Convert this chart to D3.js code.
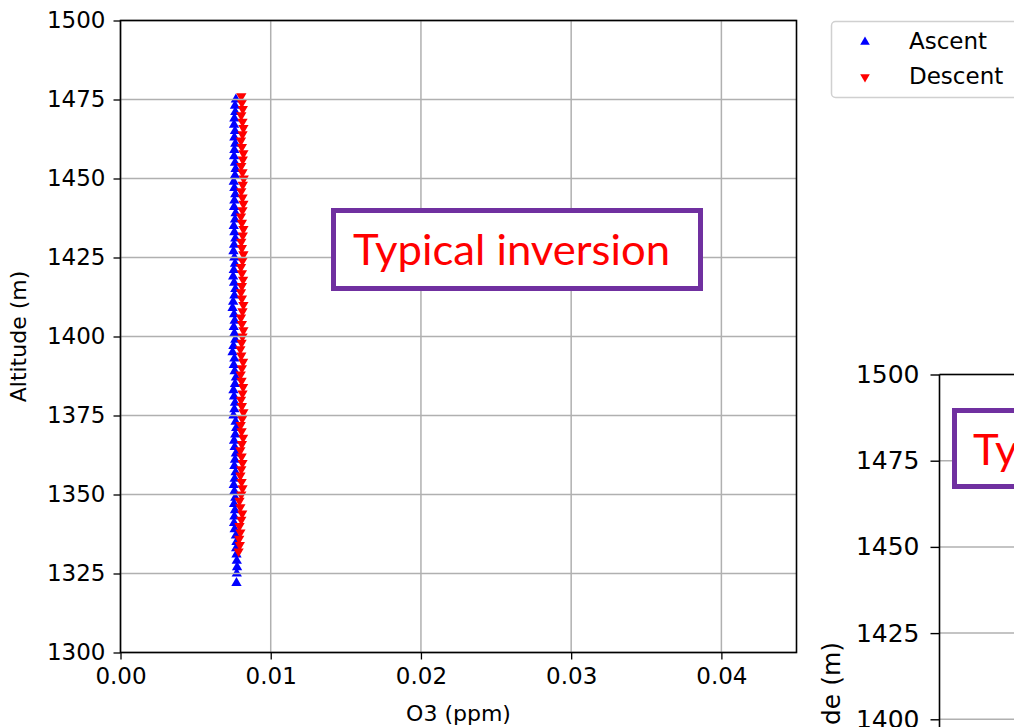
<!DOCTYPE html>
<html>
<head>
<meta charset="utf-8">
<script src="https://cdn.jsdelivr.net/npm/d3@7"></script>
<style>
  body { margin: 0; background: #fff; }
  svg { display: block; }
</style>
</head>
<body>
<svg id="chart" width="1014" height="727"></svg>
<script>
// ---------- data ----------
const ascentAlt = [1322,1325,1327,1329,1331,1333,1335,1337,1339,1341,1343,1345,1347,1349,1351,1353,1355,1357,1359,1361,1363,1365,1367,1369,1371,1373,1375,1377,1379,1381,1383,1385,1387,1389,1391,1393,1395,1397,1399,1401,1403,1405,1407,1409,1411,1413,1415,1417,1419,1421,1423,1425,1427,1429,1431,1433,1435,1437,1439,1441,1443,1445,1447,1449,1451,1453,1455,1457,1459,1461,1463,1465,1467,1469,1471,1473,1475];
const ascentO3  = [0.00772,0.00774,0.00776,0.00774,0.00772,0.00770,0.00772,0.00768,0.00760,0.00756,0.00758,0.00762,0.00756,0.00764,0.00758,0.00754,0.00760,0.00766,0.00758,0.00762,0.00768,0.00760,0.00756,0.00764,0.00770,0.00766,0.00752,0.00758,0.00762,0.00756,0.00752,0.00762,0.00768,0.00760,0.00754,0.00758,0.00746,0.00752,0.00764,0.00758,0.00754,0.00760,0.00756,0.00746,0.00750,0.00758,0.00764,0.00756,0.00750,0.00754,0.00762,0.00758,0.00752,0.00756,0.00764,0.00758,0.00754,0.00762,0.00766,0.00756,0.00758,0.00764,0.00758,0.00754,0.00762,0.00766,0.00762,0.00756,0.00758,0.00764,0.00758,0.00762,0.00756,0.00758,0.00764,0.00762,0.00768];
const descentAlt = [1332,1334,1336,1338,1340,1342,1344,1346,1348,1350,1352,1354,1356,1358,1360,1362,1364,1366,1368,1370,1372,1374,1376,1378,1380,1382,1384,1386,1388,1390,1392,1394,1396,1398,1400,1402,1404,1406,1408,1410,1412,1414,1416,1418,1420,1422,1424,1426,1428,1430,1432,1434,1436,1438,1440,1442,1444,1446,1448,1450,1452,1454,1456,1458,1460,1462,1464,1466,1468,1470,1472,1474,1476];
const descentO3  = [0.00786,0.00794,0.00790,0.00798,0.00792,0.00804,0.00810,0.00798,0.00792,0.00804,0.00812,0.00806,0.00798,0.00804,0.00812,0.00806,0.00798,0.00808,0.00816,0.00806,0.00800,0.00810,0.00818,0.00808,0.00802,0.00812,0.00816,0.00806,0.00800,0.00808,0.00816,0.00804,0.00798,0.00806,0.00812,0.00818,0.00808,0.00802,0.00812,0.00818,0.00808,0.00802,0.00808,0.00816,0.00808,0.00802,0.00812,0.00818,0.00808,0.00804,0.00814,0.00818,0.00808,0.00802,0.00812,0.00818,0.00812,0.00804,0.00814,0.00820,0.00812,0.00804,0.00814,0.00818,0.00808,0.00802,0.00812,0.00818,0.00812,0.00804,0.00814,0.00808,0.00804];
const xTicks = [0.00, 0.01, 0.02, 0.03, 0.04];
const yTicks = [1300, 1325, 1350, 1375, 1400, 1425, 1450, 1475, 1500];
const yTicks2 = [1400, 1425, 1450, 1475, 1500];
const legendLabels = ["Ascent", "Descent"];
const annotation = "Typical inversion";

// ---------- layout ----------
const svg = d3.select("#chart");
const FONT = "'DejaVu Sans', sans-serif";
const plot = {left: 120.5, right: 796.5, top: 20.5, bottom: 652.5};

const x = d3.scaleLinear().domain([0, 0.045]).range([plot.left, plot.right]);
const y = d3.scaleLinear().domain([1300, 1500]).range([plot.bottom, plot.top]);

svg.append("rect").attr("width", 1014).attr("height", 727).attr("fill", "#fff");

// points (drawn below the grid, as in the reference)
const tri = d3.symbol().type(d3.symbolTriangle).size(46);
const gPts = svg.append("g");
gPts.selectAll("path.asc").data(ascentAlt.map((a, i) => ({a, o: ascentO3[i]})))
  .join("path").attr("class", "asc")
  .attr("d", tri)
  .attr("transform", d => `translate(${x(d.o)},${y(d.a)})`)
  .attr("fill", "#0000ff");
gPts.selectAll("path.des").data(descentAlt.map((a, i) => ({a, o: descentO3[i]})))
  .join("path").attr("class", "des")
  .attr("d", tri)
  .attr("transform", d => `translate(${x(d.o)},${y(d.a)}) rotate(180)`)
  .attr("fill", "#ff0000");

// grid
const grid = svg.append("g").attr("stroke", "#b0b0b0").attr("stroke-width", 1.5);
grid.selectAll("line.vx").data(xTicks).join("line")
  .attr("x1", d => x(d)).attr("x2", d => x(d))
  .attr("y1", plot.top).attr("y2", plot.bottom);
grid.selectAll("line.hy").data(yTicks).join("line")
  .attr("x1", plot.left).attr("x2", plot.right)
  .attr("y1", d => y(d)).attr("y2", d => y(d));

// axes
const xAxis = d3.axisBottom(x).tickValues(xTicks).tickFormat(d3.format(".2f")).tickSizeInner(7).tickSizeOuter(0).tickPadding(8);
const yAxis = d3.axisLeft(y).tickValues(yTicks).tickFormat(d3.format("d")).tickSizeInner(7).tickSizeOuter(0).tickPadding(8);
const gx = svg.append("g").attr("transform", `translate(0,${plot.bottom})`).call(xAxis);
const gy = svg.append("g").attr("transform", `translate(${plot.left},0)`).call(yAxis);
[gx, gy].forEach(g => {
  g.select(".domain").remove();
  g.selectAll("line").attr("stroke", "#000").attr("stroke-width", 1.3);
  g.selectAll("text").attr("font-family", FONT).attr("font-size", 23).attr("fill", "#000");
});
svg.append("rect").attr("x", plot.left).attr("y", plot.top)
  .attr("width", plot.right - plot.left).attr("height", plot.bottom - plot.top)
  .attr("fill", "none").attr("stroke", "#000").attr("stroke-width", 1.6);

// axis labels
svg.append("text").attr("x", (plot.left + plot.right) / 2).attr("y", 721)
  .attr("text-anchor", "middle").attr("font-family", FONT).attr("font-size", 22)
  .text("O3 (ppm)");
svg.append("text").attr("transform", `translate(26,${(plot.top + plot.bottom) / 2}) rotate(-90)`)
  .attr("text-anchor", "middle").attr("font-family", FONT).attr("font-size", 22)
  .text("Altitude (m)");

// annotation box
const ANNOT_FONT = "Lato, 'Open Sans', sans-serif";
svg.append("rect").attr("x", 333.5).attr("y", 210.5).attr("width", 367).attr("height", 78)
  .attr("fill", "#fff").attr("stroke", "#7030A0").attr("stroke-width", 5);
svg.append("text").attr("x", 353).attr("y", 265)
  .attr("font-family", ANNOT_FONT).attr("font-size", 42).attr("fill", "#ff0000")
  .attr("textLength", 317).attr("lengthAdjust", "spacingAndGlyphs")
  .text(annotation);

// legend
const leg = svg.append("g");
leg.append("rect").attr("x", 831.5).attr("y", 21.5).attr("width", 220).attr("height", 76)
  .attr("rx", 4).attr("fill", "#fff").attr("stroke", "#d0d0d0").attr("stroke-width", 1.5);
const legSym = d3.symbol().type(d3.symbolTriangle).size(40);
legendLabels.forEach((lab, i) => {
  const cy = 42 + i * 35;
  leg.append("path").attr("d", legSym)
    .attr("transform", `translate(865,${cy})` + (i === 1 ? " rotate(180)" : ""))
    .attr("fill", i === 0 ? "#0000ff" : "#ff0000");
  leg.append("text").attr("x", 909).attr("y", cy + 7)
    .attr("font-family", FONT).attr("font-size", 23).text(lab);
});

// ---------- second (cropped) chart ----------
const p2 = {left: 939.5, right: 1100, top: 374.5};
const y2 = d3.scaleLinear().domain([1300, 1500]).range([p2.top + 8 * 86.2, p2.top]);
const grid2 = svg.append("g").attr("stroke", "#b0b0b0").attr("stroke-width", 1.5);
grid2.selectAll("line").data(yTicks2).join("line")
  .attr("x1", p2.left).attr("x2", p2.right)
  .attr("y1", d => y2(d)).attr("y2", d => y2(d));
const gy2 = svg.append("g").attr("transform", `translate(${p2.left},0)`)
  .call(d3.axisLeft(y2).tickValues(yTicks2).tickFormat(d3.format("d")).tickSizeInner(9).tickSizeOuter(0).tickPadding(11));
gy2.select(".domain").remove();
gy2.selectAll("line").attr("stroke", "#000").attr("stroke-width", 1.4);
gy2.selectAll("text").attr("font-family", FONT).attr("font-size", 25).attr("fill", "#000");
svg.append("line").attr("x1", p2.left).attr("x2", p2.left).attr("y1", p2.top).attr("y2", 727)
  .attr("stroke", "#000").attr("stroke-width", 1.6);
svg.append("line").attr("x1", p2.left).attr("x2", p2.right).attr("y1", p2.top).attr("y2", p2.top)
  .attr("stroke", "#000").attr("stroke-width", 1.6);
svg.append("text").attr("transform", `translate(840,642) rotate(-90)`)
  .attr("text-anchor", "end").attr("font-family", FONT).attr("font-size", 25)
  .text("Altitude (m)");
svg.append("rect").attr("x", 954.5).attr("y", 410.5).attr("width", 367).attr("height", 76)
  .attr("fill", "#fff").attr("stroke", "#7030A0").attr("stroke-width", 5);
svg.append("text").attr("x", 973).attr("y", 465)
  .attr("font-family", ANNOT_FONT).attr("font-size", 42).attr("fill", "#ff0000")
  .attr("textLength", 317).attr("lengthAdjust", "spacingAndGlyphs")
  .text(annotation);
</script>
</body>
</html>
